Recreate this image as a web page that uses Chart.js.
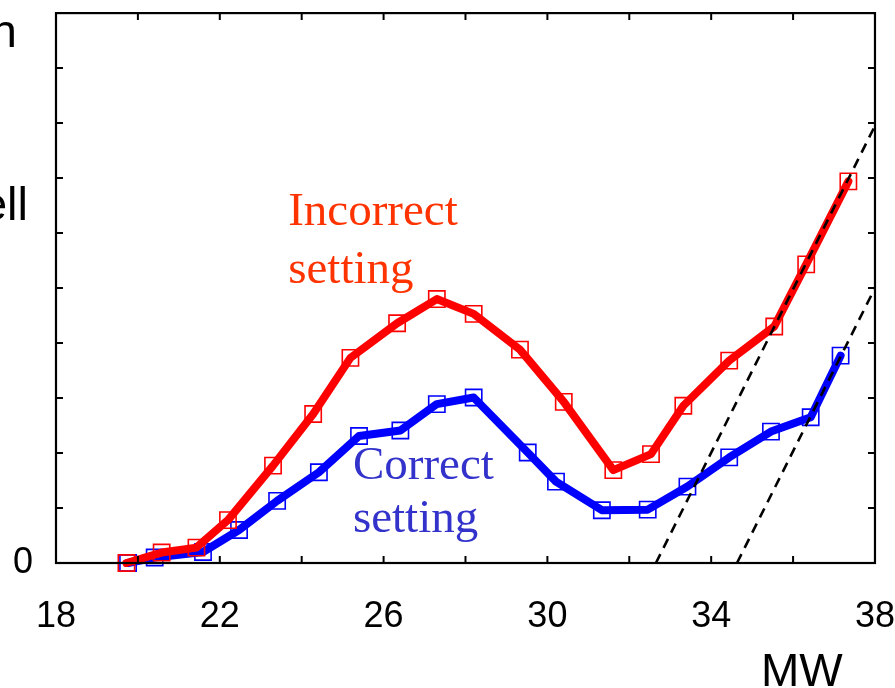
<!DOCTYPE html>
<html>
<head>
<meta charset="utf-8">
<script src="https://cdn.jsdelivr.net/npm/chart.js@4.4.1/dist/chart.umd.min.js"></script>
<style>
  html, body { margin: 0; padding: 0; background: #fff; }
  #wrap { width: 895px; height: 688px; position: relative; }
</style>
</head>
<body>
<div id="wrap"><canvas id="chart"></canvas></div>
<script>
// values (x = MW, y = arbitrary units, 0..10)
const incorrectMW  = [19.72, 20.58, 21.43, 22.20, 23.30, 24.28, 25.19, 26.33, 27.30, 28.20, 29.33, 30.40, 31.61, 32.53, 33.32, 34.44, 35.54, 36.32, 37.35];
const incorrectVal = [0.00, 0.19, 0.28, 0.78, 1.77, 2.71, 3.73, 4.36, 4.80, 4.53, 3.88, 2.93, 1.69, 1.98, 2.86, 3.68, 4.30, 5.43, 6.94];

const correctMW  = [19.76, 20.41, 21.59, 22.47, 23.40, 24.42, 25.40, 26.41, 27.30, 28.20, 29.52, 30.21, 31.33, 32.45, 33.42, 34.44, 35.46, 36.43, 37.16];
const correctVal = [0.00, 0.10, 0.20, 0.60, 1.13, 1.65, 2.31, 2.41, 2.89, 3.01, 2.01, 1.48, 0.96, 0.97, 1.39, 1.92, 2.39, 2.65, 3.77];

// dashed guide lines
const guideAMW  = [32.65, 38];
const guideAVal = [0, 7.95];
const guideBMW  = [34.63, 38];
const guideBVal = [0, 5.0];

// axes
const xTickValues = [18, 22, 26, 30, 34, 38];
const xTickMarks  = [20, 22, 24, 26, 28, 30, 32, 34, 36];
const yTickMarks  = [1, 2, 3, 4, 5, 6, 7, 8, 9];
const yZeroLabel  = '0';
const xTitle      = 'MW';
const yTitleBits  = ['n', 'ell'];   // what is left of the cropped y title

const incorrectLabel = ['Incorrect', 'setting'];
const correctLabel   = ['Correct', 'setting'];

const toPoints = (xs, ys) => xs.map((v, i) => ({ x: v, y: ys[i] }));

const SANS = "'Liberation Sans', Arial, sans-serif";
const SERIF = "'Liberation Serif', 'Times New Roman', serif";

// box, inward ticks and the free texts
const frame = {
  id: 'frame',
  afterDatasetsDraw(chart) {
    const { ctx, chartArea: a, scales: { x, y } } = chart;
    ctx.save();

    ctx.strokeStyle = '#000';
    ctx.lineWidth = 2.2;
    ctx.strokeRect(a.left, a.top, a.right - a.left, a.bottom - a.top);

    ctx.lineWidth = 2;
    ctx.beginPath();
    xTickMarks.forEach(v => {
      const px = x.getPixelForValue(v);
      ctx.moveTo(px, a.bottom); ctx.lineTo(px, a.bottom - 7);
      ctx.moveTo(px, a.top);    ctx.lineTo(px, a.top + 7);
    });
    yTickMarks.forEach(v => {
      const py = y.getPixelForValue(v);
      ctx.moveTo(a.left, py);  ctx.lineTo(a.left + 7, py);
      ctx.moveTo(a.right, py); ctx.lineTo(a.right - 7, py);
    });
    ctx.stroke();

    // y "0" label
    ctx.fillStyle = '#000';
    ctx.font = `36px ${SANS}`;
    ctx.textAlign = 'right';
    ctx.textBaseline = 'middle';
    ctx.fillText(yZeroLabel, a.left - 23, y.getPixelForValue(0));

    // cropped y title
    ctx.font = `47px ${SANS}`;
    ctx.textBaseline = 'alphabetic';
    ctx.fillText(yTitleBits[0], 17, 47);
    ctx.fillText(yTitleBits[1], 28, 220);

    // x title
    ctx.textAlign = 'left';
    ctx.font = `46px ${SANS}`;
    ctx.fillText(xTitle, a.right - 114, 686);

    // series annotations
    ctx.font = `47px ${SERIF}`;
    ctx.fillStyle = '#ff3300';
    ctx.fillText(incorrectLabel[0], x.getPixelForValue(23.67), y.getPixelForValue(6.14));
    ctx.fillText(incorrectLabel[1], x.getPixelForValue(23.67), y.getPixelForValue(5.09));
    ctx.fillStyle = '#3333cc';
    ctx.fillText(correctLabel[0], x.getPixelForValue(25.25), y.getPixelForValue(1.53));
    ctx.fillText(correctLabel[1], x.getPixelForValue(25.25), y.getPixelForValue(0.57));

    ctx.restore();
  }
};

const dashStyle = {
  borderColor: '#000',
  borderWidth: 2.6,
  borderDash: [10, 7],
  pointRadius: 0,
  clip: false
};

const markerStyle = (color) => ({
  borderColor: color,
  borderWidth: 8,
  borderJoinStyle: 'round',
  borderCapStyle: 'round',
  pointStyle: 'rect',
  pointRadius: 11.5,
  pointBorderColor: color,
  pointBorderWidth: 1.6,
  pointBackgroundColor: 'rgba(0,0,0,0)',
  clip: false
});

new Chart(document.getElementById('chart'), {
  type: 'line',
  data: {
    datasets: [
      { label: 'guide A', data: toPoints(guideAMW, guideAVal), ...dashStyle },
      { label: 'guide B', data: toPoints(guideBMW, guideBVal), ...dashStyle },
      { label: 'Incorrect setting', data: toPoints(incorrectMW, incorrectVal), ...markerStyle('#ff0000') },
      { label: 'Correct setting', data: toPoints(correctMW, correctVal), ...markerStyle('#0000ff') }
    ]
  },
  options: {
    responsive: true,
    maintainAspectRatio: false,
    animation: false,
    layout: { padding: { top: 10, left: 0, right: 0, bottom: 0 } },
    plugins: { legend: { display: false }, tooltip: { enabled: false } },
    scales: {
      x: {
        type: 'linear',
        min: 18,
        max: 38,
        // tick marks are drawn by the frame plugin; tickLength only pushes the labels down
        grid: { display: false, drawTicks: true, tickLength: 32 },
        border: { display: false },
        ticks: {
          color: '#000',
          font: { family: SANS, size: 36 },
          padding: 0,
          maxRotation: 0,
          autoSkip: false
        },
        afterBuildTicks: (s) => { s.ticks = xTickValues.map(v => ({ value: v })); },
        afterFit: (s) => { s.height = 125; }
      },
      y: {
        min: 0,
        max: 10,
        grid: { display: false },
        border: { display: false },
        ticks: { display: false },
        afterFit: (s) => { s.width = 56; }
      }
    }
  },
  plugins: [frame]
});
</script>
</body>
</html>
